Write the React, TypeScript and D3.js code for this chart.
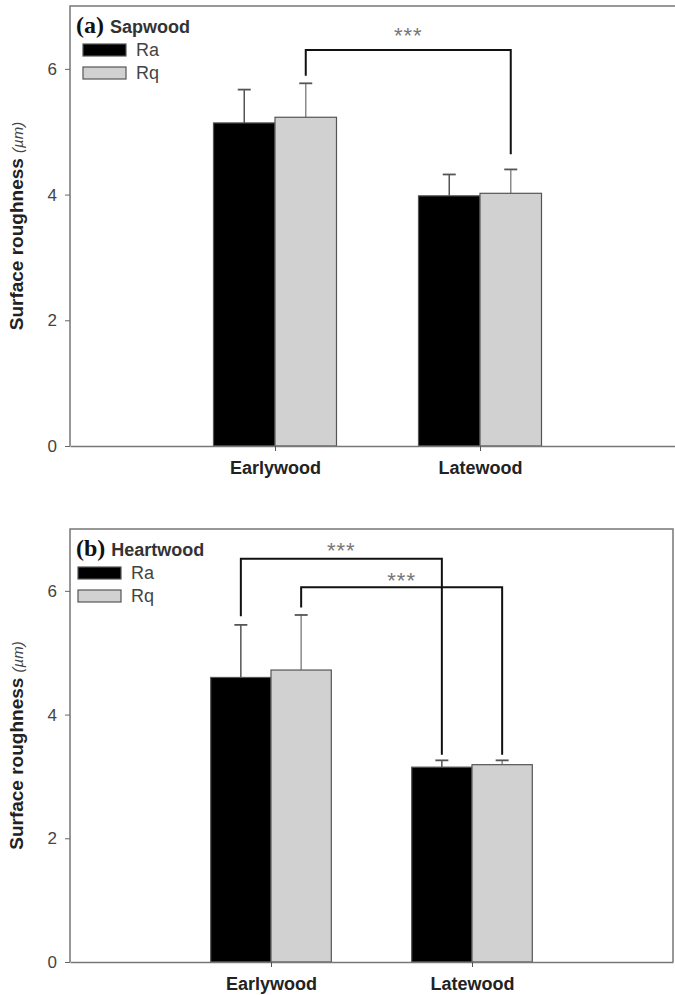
import React, { useEffect, useRef } from "react";
import * as d3 from "d3";

// categories / series
const categories: string[] = ["Earlywood", "Latewood"];
const seriesNames: string[] = ["Ra", "Rq"];
const yTicks: number[] = [0, 2, 4, 6];

// (a) sapwood
const sapRa: number[] = [5.14, 3.98];
const sapRaErr: number[] = [0.53, 0.34];
const sapRq: number[] = [5.23, 4.02];
const sapRqErr: number[] = [0.54, 0.38];

// (b) heartwood
const heartRa: number[] = [4.6, 3.15];
const heartRaErr: number[] = [0.85, 0.11];
const heartRq: number[] = [4.72, 3.19];
const heartRqErr: number[] = [0.89, 0.07];

// significance brackets: [from cat, from series, to cat, to series, top, left end, right end, label y]
const sapBrackets: [number, number, number, number, number, number, number, number][] = [
  [0, 1, 1, 1, 6.3, 5.89, 4.64, 6.65],
];
const heartBrackets: [number, number, number, number, number, number, number, number][] = [
  [0, 0, 1, 0, 6.52, 5.59, 3.35, 6.78],
  [0, 1, 1, 1, 6.06, 5.73, 3.35, 6.29],
];

const SANS = "'Liberation Sans', Arial, sans-serif";
const SERIF = "'Liberation Serif', 'Times New Roman', serif";
const FILLS = ["#000000", "#d0d1d0"];

interface PanelCfg {
  letter: string;
  name: string;
  ra: number[];
  raErr: number[];
  rq: number[];
  rqErr: number[];
  brackets: [number, number, number, number, number, number, number, number][];
  left: number;
  right: number;
  top: number;
  bottom: number;
  legendX: number;
}

const panels: PanelCfg[] = [
  { letter: "(a)", name: "Sapwood", ra: sapRa, raErr: sapRaErr, rq: sapRq, rqErr: sapRqErr,
    brackets: sapBrackets, left: 70, right: 685, top: 6, bottom: 446, legendX: 83 },
  { letter: "(b)", name: "Heartwood", ra: heartRa, raErr: heartRaErr, rq: heartRq, rqErr: heartRqErr,
    brackets: heartBrackets, left: 70, right: 673, top: 529, bottom: 962, legendX: 78 },
];

const App: React.FC = () => {
  const svgRef = useRef<SVGSVGElement | null>(null);

  useEffect(() => {
    if (!svgRef.current) return;
    const svg = d3.select(svgRef.current);
    svg.selectAll("*").remove();

    panels.forEach((p) => {
      const g = svg.append("g");
      const x = d3.scalePoint<string>().domain(categories).range([p.left, p.right]).padding(1);
      const y = d3.scaleLinear().domain([0, 7]).range([p.bottom, p.top]);
      const barW = x.step() * 0.3;
      const values = [p.ra, p.rq];
      const errs = [p.raErr, p.rqErr];
      const barX = (ci: number, si: number) => (x(categories[ci]) ?? 0) + (si - 1) * barW;
      const barC = (ci: number, si: number) => barX(ci, si) + barW / 2;

      // frame
      g.append("path")
        .attr("d", `M${p.left},${y(0)}V${p.top}H${p.right}V${y(0)}`)
        .attr("fill", "none")
        .attr("stroke", "#777")
        .attr("stroke-width", 1.5);

      // bars + error bars
      seriesNames.forEach((s, si) => {
        categories.forEach((c, ci) => {
          const v = values[si][ci];
          const e = errs[si][ci];
          const cx = barC(ci, si);
          g.append("line")
            .attr("x1", cx).attr("x2", cx)
            .attr("y1", y(v)).attr("y2", y(v + e))
            .attr("stroke", si === 0 ? "#555" : "#8a8a8a")
            .attr("stroke-width", 1.5);
          g.append("line")
            .attr("x1", cx - 6.5).attr("x2", cx + 6.5)
            .attr("y1", y(v + e)).attr("y2", y(v + e))
            .attr("stroke", "#555")
            .attr("stroke-width", 1.8);
          g.append("rect")
            .attr("x", barX(ci, si))
            .attr("y", y(v))
            .attr("width", barW)
            .attr("height", y(0) - y(v))
            .attr("fill", FILLS[si])
            .attr("stroke", "#555")
            .attr("stroke-width", 1.2);
        });
      });

      // x axis
      const xAxis = g.append("g")
        .attr("transform", `translate(0,${y(0)})`)
        .call(d3.axisBottom(x).tickSize(5).tickSizeOuter(0).tickPadding(10));
      xAxis.select(".domain").attr("stroke", "#777").attr("stroke-width", 1.5);
      xAxis.selectAll(".tick line").attr("stroke", "#555");
      xAxis.selectAll("text")
        .attr("fill", "#222")
        .style("font-family", SANS)
        .style("font-size", "18px")
        .style("font-weight", "bold");

      // y axis
      const yAxis = g.append("g")
        .attr("transform", `translate(${p.left},0)`)
        .call(d3.axisLeft(y).tickValues(yTicks).tickFormat(d3.format("d")).tickSize(5).tickSizeOuter(0).tickPadding(8));
      yAxis.select(".domain").remove();
      yAxis.selectAll(".tick line").attr("stroke", "#666");
      yAxis.selectAll("text")
        .attr("fill", "#444")
        .style("font-family", SANS)
        .style("font-size", "17px");

      // y title
      const yt = g.append("text")
        .attr("transform", `translate(23,${(p.top + p.bottom) / 2}) rotate(-90)`)
        .attr("text-anchor", "middle")
        .attr("fill", "#222")
        .style("font-family", SANS);
      yt.append("tspan")
        .style("font-size", "19px")
        .style("font-weight", "bold")
        .text("Surface roughness ");
      yt.append("tspan")
        .style("font-size", "15px")
        .style("font-style", "italic")
        .attr("fill", "#444")
        .text("(µm)");

      // panel title
      const tt = g.append("text")
        .attr("x", p.left + 6)
        .attr("y", p.top + 27);
      tt.append("tspan")
        .style("font-family", SERIF)
        .style("font-weight", "bold")
        .style("font-size", "24px")
        .attr("fill", "#111")
        .text(p.letter);
      tt.append("tspan")
        .attr("dx", 6)
        .style("font-family", SANS)
        .style("font-weight", "bold")
        .style("font-size", "18px")
        .attr("fill", "#333")
        .text(p.name);

      // legend
      seriesNames.forEach((s, si) => {
        const ly = p.top + 38 + si * 23;
        g.append("rect")
          .attr("x", p.legendX)
          .attr("y", ly)
          .attr("width", 43)
          .attr("height", 12)
          .attr("fill", FILLS[si])
          .attr("stroke", "#555")
          .attr("stroke-width", 1.2);
        g.append("text")
          .attr("x", p.legendX + 53)
          .attr("y", ly + 6)
          .attr("dy", "0.35em")
          .attr("fill", "#444")
          .style("font-family", SANS)
          .style("font-size", "18px")
          .text(s);
      });

      // significance brackets
      p.brackets.forEach(([c1, s1, c2, s2, top, e1, e2, ly]) => {
        const x1 = barC(c1, s1);
        const x2 = barC(c2, s2);
        g.append("path")
          .attr("d", `M${x1},${y(e1)}V${y(top)}H${x2}V${y(e2)}`)
          .attr("fill", "none")
          .attr("stroke", "#111")
          .attr("stroke-width", 2);
        g.append("text")
          .attr("x", (x1 + x2) / 2)
          .attr("y", y(ly))
          .attr("dy", "0.7em")
          .attr("text-anchor", "middle")
          .attr("fill", "#777")
          .style("font-family", SANS)
          .style("font-size", "22px")
          .style("letter-spacing", "1px")
          .text("***");
      });
    });
  }, []);

  return (
    <div style={{ position: "absolute", left: 0, top: 0, width: 675, height: 995, background: "#fff" }}>
      <svg ref={svgRef} width={675} height={995}></svg>
    </div>
  );
};

export default App;
